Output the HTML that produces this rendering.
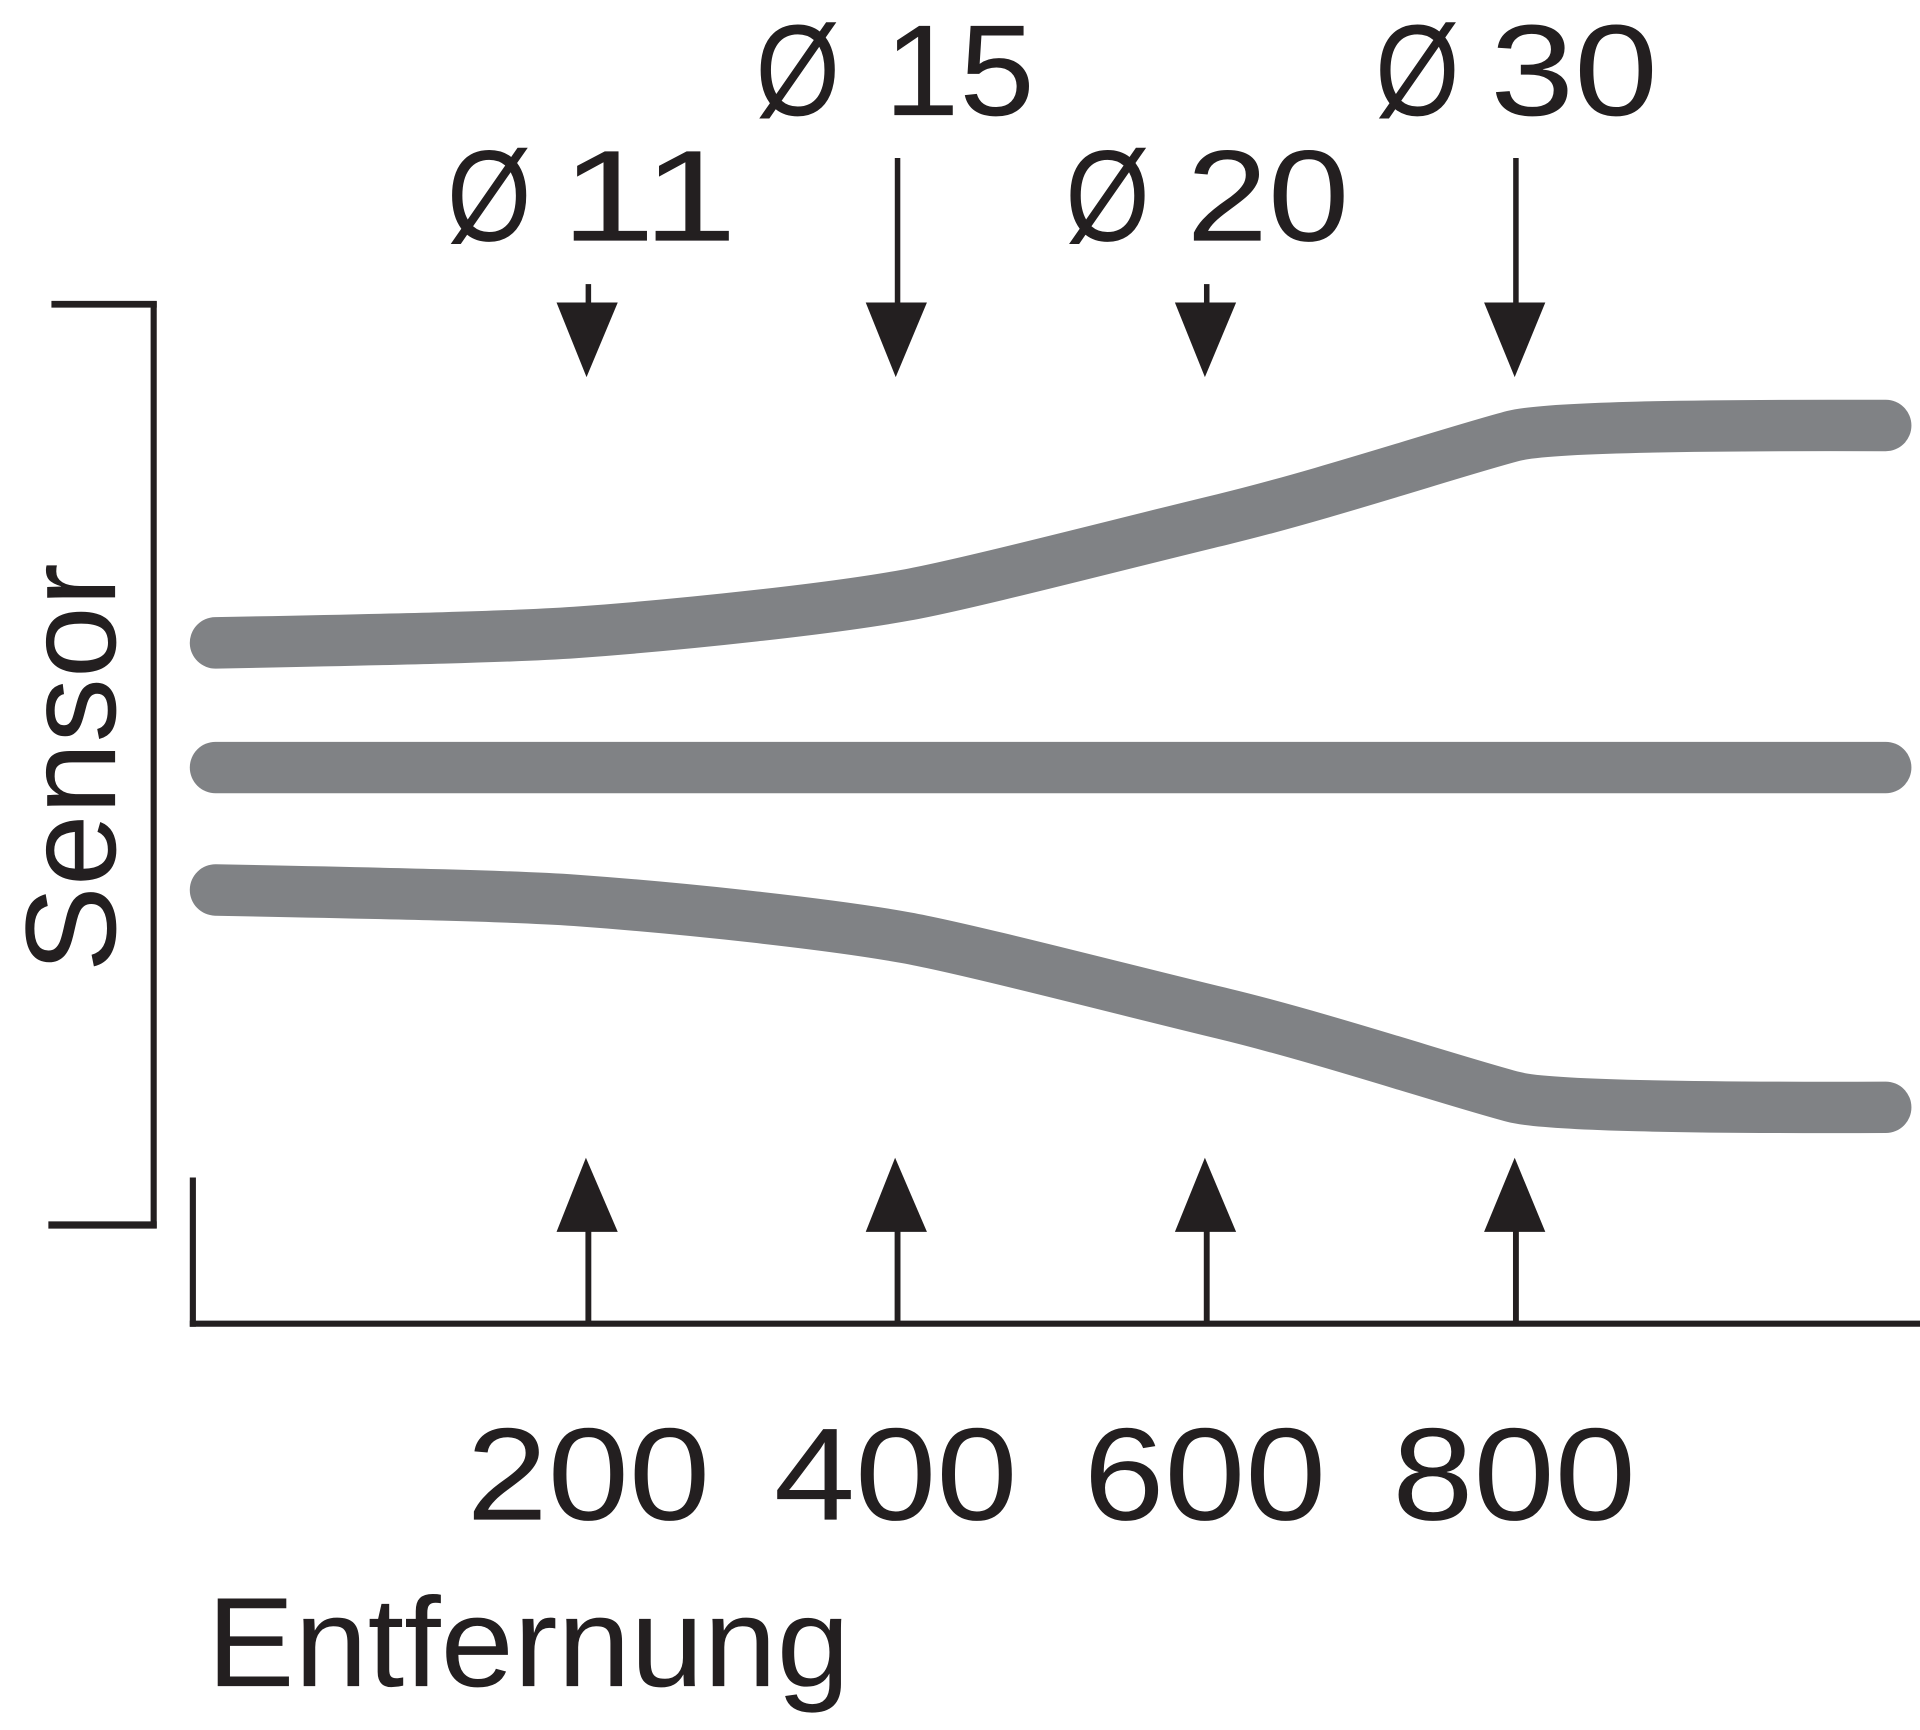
<!DOCTYPE html>
<html>
<head>
<meta charset="utf-8">
<style>
  html, body { margin: 0; padding: 0; background: #ffffff; }
  body { width: 1920px; height: 1730px; overflow: hidden; }
  svg { display: block; }
  text { font-family: "Liberation Sans", Arial, sans-serif; fill: #231f20; }
</style>
</head>
<body>
<svg width="1920" height="1730" viewBox="0 0 1568 1412.8" preserveAspectRatio="none" xmlns="http://www.w3.org/2000/svg">
  <rect x="0" y="0" width="1568" height="1412.8" fill="#ffffff"/>

  <!-- Top labels row 1 -->
  <text x="617" y="94" font-size="106" textLength="69" lengthAdjust="spacingAndGlyphs">Ø</text>
  <text x="722" y="94" font-size="106" textLength="123" lengthAdjust="spacingAndGlyphs">15</text>
  <text x="1123" y="94" font-size="106" textLength="69" lengthAdjust="spacingAndGlyphs">Ø</text>
  <text x="1217" y="94" font-size="106" textLength="137" lengthAdjust="spacingAndGlyphs">30</text>

  <!-- Top labels row 2 -->
  <text x="365" y="196.5" font-size="106" textLength="69" lengthAdjust="spacingAndGlyphs">Ø</text>
  <text x="458" y="196.5" font-size="106" textLength="144" lengthAdjust="spacingAndGlyphs">11</text>
  <text x="870" y="196.5" font-size="106" textLength="69" lengthAdjust="spacingAndGlyphs">Ø</text>
  <text x="969" y="196.5" font-size="106" textLength="133" lengthAdjust="spacingAndGlyphs">20</text>

  <!-- Down arrows -->
  <g stroke="#231f20" stroke-width="4.5" fill="none">
    <line x1="480.5" y1="232" x2="480.5" y2="250"/>
    <line x1="733" y1="129" x2="733" y2="250"/>
    <line x1="985.5" y1="232" x2="985.5" y2="250"/>
    <line x1="1238" y1="129" x2="1238" y2="250"/>
  </g>
  <g fill="#231f20">
    <polygon points="454.5,247 504.5,247 479,308"/>
    <polygon points="707,247 757,247 731.5,308"/>
    <polygon points="959.5,247 1009.5,247 984,308"/>
    <polygon points="1212,247 1262,247 1237,308"/>
  </g>

  <!-- Sensor bracket -->
  <g stroke="#231f20" fill="none">
    <line x1="42" y1="248.5" x2="128" y2="248.5" stroke-width="5.5"/>
    <line x1="125.5" y1="246" x2="125.5" y2="1003" stroke-width="5"/>
    <line x1="39.5" y1="1000.4" x2="128" y2="1000.4" stroke-width="6"/>
  </g>
  <text transform="translate(94,794) rotate(-90)" font-size="105" textLength="334" lengthAdjust="spacingAndGlyphs">Sensor</text>

  <!-- Gray beam lines -->
  <g stroke="#808285" stroke-width="42" fill="none" stroke-linecap="round" stroke-linejoin="round">
    <path id="topc" d="M176,525 C330,522 420,520 470,516.5 C560,510 680,497 740,486 C790,477 920,443 999,424 C1080,404.5 1190,368 1236,356 C1262,349 1380,347 1540,347.5"/>
    <line x1="176" y1="626.8" x2="1540" y2="626.8"/>
    <path transform="translate(0,1251.8) scale(1,-1)" d="M176,525 C330,522 420,520 470,516.5 C560,510 680,497 740,486 C790,477 920,443 999,424 C1080,404.5 1190,368 1236,356 C1262,349 1380,347 1540,347.5"/>
  </g>

  <!-- Axis -->
  <g stroke="#231f20" fill="none">
    <line x1="157.5" y1="961.6" x2="157.5" y2="1083.5" stroke-width="5"/>
    <line x1="155" y1="1081" x2="1568" y2="1081" stroke-width="5"/>
  </g>

  <!-- Up arrows -->
  <g stroke="#231f20" stroke-width="4.8" fill="none">
    <line x1="480.5" y1="1004" x2="480.5" y2="1081"/>
    <line x1="733" y1="1004" x2="733" y2="1081"/>
    <line x1="985.5" y1="1004" x2="985.5" y2="1081"/>
    <line x1="1238" y1="1004" x2="1238" y2="1081"/>
  </g>
  <g fill="#231f20">
    <polygon points="454.5,1006 504.5,1006 478.5,945.5"/>
    <polygon points="707,1006 757,1006 731,945.5"/>
    <polygon points="959.5,1006 1009.5,1006 984,945.5"/>
    <polygon points="1212,1006 1262,1006 1237,945.5"/>
  </g>

  <!-- X labels -->
  <text x="381" y="1241" font-size="107.5" textLength="199" lengthAdjust="spacingAndGlyphs">200</text>
  <text x="632" y="1241" font-size="107.5" textLength="199" lengthAdjust="spacingAndGlyphs">400</text>
  <text x="885" y="1241" font-size="107.5" textLength="198" lengthAdjust="spacingAndGlyphs">600</text>
  <text x="1137" y="1241" font-size="107.5" textLength="199" lengthAdjust="spacingAndGlyphs">800</text>

  <text x="169" y="1377" font-size="104" textLength="525" lengthAdjust="spacingAndGlyphs">Entfernung</text>
</svg>
</body>
</html>
